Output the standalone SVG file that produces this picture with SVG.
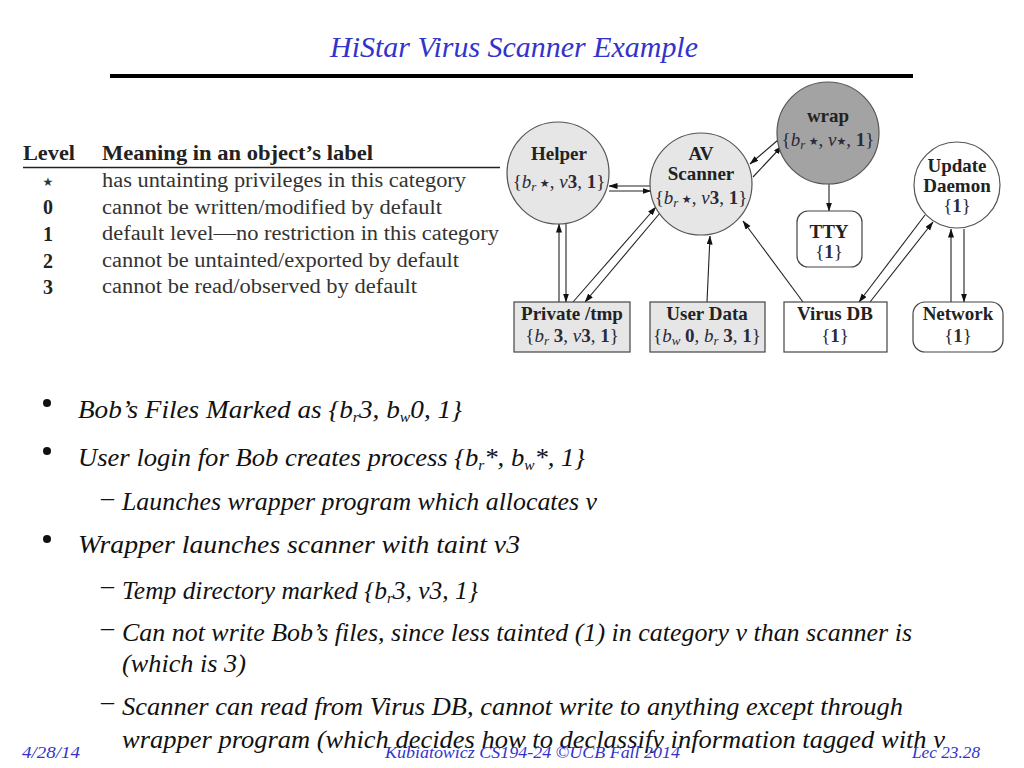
<svg xmlns="http://www.w3.org/2000/svg" width="1024" height="768" viewBox="0 0 1024 768">
<style>
.title{font-family:"Liberation Serif",serif;font-style:italic;font-size:30px;fill:#3333cc}
.foot{font-family:"Liberation Serif",serif;font-style:italic;font-size:17px;fill:#3333cc}
.th{font-family:"Liberation Serif",serif;font-weight:bold;font-size:20px;fill:#222}
.td{font-family:"Liberation Serif",serif;font-size:20px;fill:#333}
.lv{font-family:"Liberation Serif","DejaVu Serif",serif;font-weight:bold;font-size:20px;fill:#222}
.nm{font-family:"Liberation Serif",serif;font-weight:bold;font-size:19px;fill:#222;text-anchor:middle}
.lb{font-family:"Liberation Serif","DejaVu Serif",serif;font-size:19px;fill:#2a2a3a;text-anchor:middle}
.i{font-style:italic}
.b{font-weight:bold}
.st{font-family:"DejaVu Sans",sans-serif;font-size:11px}
.bul{font-family:"Liberation Serif",serif;font-style:italic;font-size:26px;fill:#111}
.dot{fill:#111}
.circ{stroke:#555;stroke-width:1.2}
.box{stroke:#444;stroke-width:1.2}
.lt{fill:#e6e6e6}
.dk{fill:#a3a3a3}
.wh{fill:#fff}
.con line{stroke:#222;stroke-width:1.1;marker-end:url(#ah)}
</style>
<defs>
<marker id="ah" markerWidth="9" markerHeight="7" refX="8.5" refY="3" orient="auto" markerUnits="userSpaceOnUse">
<path d="M0,0 L9,3 L0,6 z" fill="#111"/>
</marker>
</defs>
<rect width="1024" height="768" fill="#fff"/>
<text class="title" x="514" y="57" text-anchor="middle" textLength="368" lengthAdjust="spacingAndGlyphs">HiStar Virus Scanner Example</text>
<rect x="110" y="74" width="803" height="4" fill="#000"/>

<g id="table">
<text class="th" x="23" y="160" textLength="52" lengthAdjust="spacingAndGlyphs">Level</text>
<text class="th" x="102" y="160" textLength="271" lengthAdjust="spacingAndGlyphs">Meaning in an object’s label</text>
<line x1="23" y1="167.5" x2="500" y2="167.5" stroke="#222" stroke-width="1.5"/>
<text class="st" x="48" y="186" text-anchor="middle" fill="#333" style="font-size:12px">★</text>
<text class="lv" x="48" y="214" text-anchor="middle">0</text>
<text class="lv" x="48" y="241" text-anchor="middle">1</text>
<text class="lv" x="48" y="268" text-anchor="middle">2</text>
<text class="lv" x="48" y="294" text-anchor="middle">3</text>
<text class="td" x="102" y="187" textLength="364" lengthAdjust="spacingAndGlyphs">has untainting privileges in this category</text>
<text class="td" x="102" y="214" textLength="340" lengthAdjust="spacingAndGlyphs">cannot be written/modified by default</text>
<text class="td" x="102" y="240" textLength="397" lengthAdjust="spacingAndGlyphs">default level—no restriction in this category</text>
<text class="td" x="102" y="267" textLength="357" lengthAdjust="spacingAndGlyphs">cannot be untainted/exported by default</text>
<text class="td" x="102" y="293" textLength="315" lengthAdjust="spacingAndGlyphs">cannot be read/observed by default</text>
</g>

<g id="connectors" class="con">
<line x1="650" y1="186" x2="609" y2="186"/>
<line x1="609" y1="191" x2="651" y2="191"/>
<line x1="559" y1="302" x2="559" y2="224"/>
<line x1="566" y1="224" x2="566" y2="302"/>
<line x1="573" y1="302" x2="656" y2="207"/>
<line x1="660" y1="213" x2="585" y2="302"/>
<line x1="707" y1="302" x2="710" y2="236"/>
<line x1="803" y1="302" x2="743" y2="221"/>
<line x1="778" y1="140" x2="750" y2="164"/>
<line x1="753" y1="177" x2="782" y2="146"/>
<line x1="829" y1="184" x2="829" y2="211"/>
<line x1="925" y1="215" x2="859" y2="302"/>
<line x1="870" y1="302" x2="933" y2="222"/>
<line x1="951" y1="302" x2="951" y2="229"/>
<line x1="964" y1="229" x2="964" y2="302"/>
</g>

<g id="helper">
<circle class="circ lt" cx="558" cy="173" r="51"/>
<text class="nm" x="559" y="160">Helper</text>
<text class="lb" x="559" y="188">{<tspan class="i">b<tspan font-size="13" dy="3">r</tspan></tspan><tspan class="st" dy="-4"> ★</tspan><tspan dy="1">, </tspan><tspan class="i">v</tspan><tspan class="b">3</tspan>, <tspan class="b">1</tspan>}</text>
</g>
<g id="avscanner">
<circle class="circ lt" cx="701" cy="184" r="51"/>
<text class="nm" x="701" y="160">AV</text>
<text class="nm" x="701" y="180">Scanner</text>
<text class="lb" x="701" y="204">{<tspan class="i">b<tspan font-size="13" dy="3">r</tspan></tspan><tspan class="st" dy="-4"> ★</tspan><tspan dy="1">, </tspan><tspan class="i">v</tspan><tspan class="b">3</tspan>, <tspan class="b">1</tspan>}</text>
</g>
<g id="wrap">
<circle class="circ dk" cx="828" cy="133" r="51"/>
<text class="nm" x="828" y="122">wrap</text>
<text class="lb" x="828" y="146">{<tspan class="i">b<tspan font-size="13" dy="3">r</tspan></tspan><tspan class="st" dy="-4"> ★</tspan><tspan dy="1">, </tspan><tspan class="i">v</tspan><tspan class="st" dy="-1">★</tspan><tspan dy="1">, </tspan><tspan class="b">1</tspan>}</text>
</g>
<g id="tty">
<rect class="box wh" x="797" y="211" width="65" height="56" rx="11"/>
<text class="nm" x="829" y="238">TTY</text>
<text class="lb" x="829" y="258">{<tspan class="b">1</tspan>}</text>
</g>
<g id="update">
<circle class="circ wh" cx="957" cy="185" r="43"/>
<text class="nm" x="957" y="172">Update</text>
<text class="nm" x="957" y="192">Daemon</text>
<text class="lb" x="957" y="212">{<tspan class="b">1</tspan>}</text>
</g>
<g id="private">
<rect class="box lt" x="514" y="302" width="116" height="50"/>
<text class="nm" x="572" y="320">Private /tmp</text>
<text class="lb" x="572" y="342">{<tspan class="i">b<tspan font-size="13" dy="3">r</tspan></tspan><tspan class="b" dy="-3"> 3</tspan>, <tspan class="i">v</tspan><tspan class="b">3</tspan>, <tspan class="b">1</tspan>}</text>
</g>
<g id="userdata">
<rect class="box lt" x="650" y="302" width="115" height="50"/>
<text class="nm" x="707" y="320">User Data</text>
<text class="lb" x="707" y="342">{<tspan class="i">b<tspan font-size="13" dy="3">w</tspan></tspan><tspan class="b" dy="-3"> 0</tspan>, <tspan class="i">b<tspan font-size="13" dy="3">r</tspan></tspan><tspan class="b" dy="-3"> 3</tspan>, <tspan class="b">1</tspan>}</text>
</g>
<g id="virusdb">
<rect class="box wh" x="784" y="302" width="103" height="50"/>
<text class="nm" x="835" y="320">Virus DB</text>
<text class="lb" x="835" y="342">{<tspan class="b">1</tspan>}</text>
</g>
<g id="network">
<rect class="box wh" x="913" y="302" width="90" height="50" rx="12"/>
<text class="nm" x="958" y="320">Network</text>
<text class="lb" x="958" y="342">{<tspan class="b">1</tspan>}</text>
</g>

<g id="bullets">
<circle class="dot" cx="47" cy="403" r="4"/>
<text class="bul" x="78" y="418" textLength="384" lengthAdjust="spacingAndGlyphs">Bob’s Files Marked as {b<tspan font-size="15" dy="4">r</tspan><tspan dy="-4">3, b</tspan><tspan font-size="15" dy="4">w</tspan><tspan dy="-4">0, 1}</tspan></text>
<circle class="dot" cx="47" cy="451" r="4"/>
<text class="bul" x="78" y="466" textLength="507" lengthAdjust="spacingAndGlyphs">User login for Bob creates process {b<tspan font-size="15" dy="4">r</tspan><tspan dy="-4">*, b</tspan><tspan font-size="15" dy="4">w</tspan><tspan dy="-4">*, 1}</tspan></text>
<text class="bul" x="101" y="506">–</text>
<text class="bul" x="122" y="510" textLength="475" lengthAdjust="spacingAndGlyphs">Launches wrapper program which allocates v</text>
<circle class="dot" cx="47" cy="539" r="4"/>
<text class="bul" x="78" y="553" textLength="442" lengthAdjust="spacingAndGlyphs">Wrapper launches scanner with taint v3</text>
<text class="bul" x="101" y="594">–</text>
<text class="bul" x="122" y="599" textLength="356" lengthAdjust="spacingAndGlyphs">Temp directory marked {b<tspan font-size="15" dy="4">r</tspan><tspan dy="-4">3, v3, 1}</tspan></text>
<text class="bul" x="101" y="636">–</text>
<text class="bul" x="122" y="641" textLength="790" lengthAdjust="spacingAndGlyphs">Can not write Bob’s files, since less tainted (1) in category v than scanner is</text>
<text class="bul" x="122" y="672" textLength="124" lengthAdjust="spacingAndGlyphs">(which is 3)</text>
<text class="bul" x="101" y="710">–</text>
<text class="bul" x="122" y="715" textLength="781" lengthAdjust="spacingAndGlyphs">Scanner can read from Virus DB, cannot write to anything except through</text>
<text class="bul" x="122" y="748" textLength="823" lengthAdjust="spacingAndGlyphs">wrapper program (which decides how to declassify information tagged with v</text>
</g>

<g id="footer">
<text class="foot" x="22" y="758" textLength="58" lengthAdjust="spacingAndGlyphs">4/28/14</text>
<text class="foot" x="385" y="758" textLength="295" lengthAdjust="spacingAndGlyphs">Kubiatowicz CS194-24 ©UCB Fall 2014</text>
<text class="foot" x="912" y="758" textLength="68" lengthAdjust="spacingAndGlyphs">Lec 23.28</text>
</g>
</svg>
